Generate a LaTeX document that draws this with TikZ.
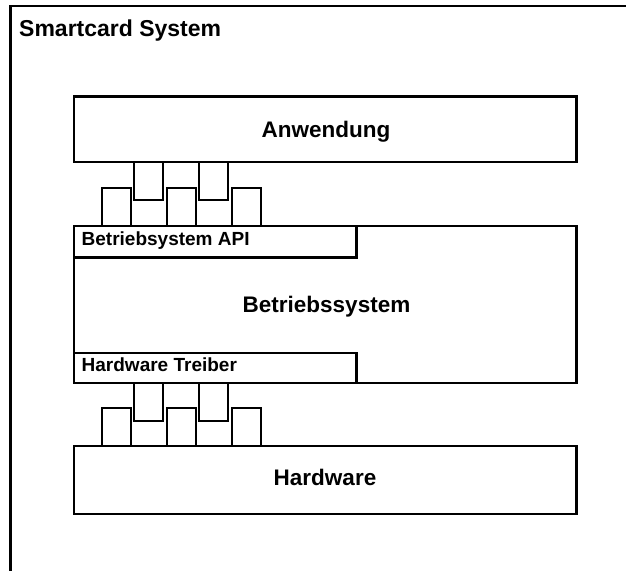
\documentclass[tikz,border=0pt]{standalone}
\usepackage{fontspec}
\setmainfont{Liberation Sans}
\begin{document}
\begin{tikzpicture}[x=1pt,y=-1pt,
  line/.style={line width=2.5pt, black},
  box/.style={draw, line width=2.5pt, rectangle, inner sep=0pt, outer sep=0pt},
  sock/.style={box, minimum width=29pt, minimum height=38pt},
  big/.style={font=\bfseries\fontsize{22.5pt}{26pt}\selectfont, inner sep=0pt, anchor=base},
  small/.style={font=\bfseries\fontsize{19pt}{22pt}\selectfont, inner sep=0pt, anchor=base west}]
\useasboundingbox (0,0) rectangle (626,570);
% outer frame
\coordinate (frTR) at (630,6.2);
\coordinate (frTL) at (10.5,6.2);
\coordinate (frBL) at (10.5,575);
\draw[line, line join=miter] (frTR) -- (frTL) -- (frBL);
\node[font=\bfseries\fontsize{23pt}{27pt}\selectfont, inner sep=0pt, anchor=base west] (title) at (19,36) {Smartcard System};
% main boxes
\node[box, minimum width=502.3pt, minimum height=65.5pt] (anw) at (325.15,129.25) {};
\node[box, minimum width=502.3pt, minimum height=157pt] (bs) at (325.15,304.5) {};
\node[box, minimum width=282.3pt, minimum height=31.3pt] (api) at (215.15,241.65) {};
\node[box, minimum width=282.3pt, minimum height=30pt] (trb) at (215.15,368) {};
\node[box, minimum width=502.3pt, minimum height=68pt] (hw) at (325.15,480) {};
% labels
\node[big] (tanw) at (326,137) {Anwendung};
\node[big] (tbs) at (326.5,312) {Betriebssystem};
\node[big] (thw) at (325,485) {Hardware};
\node[small] (tapi) at (81.5,245.5) {Betriebsystem API};
\node[small] (ttrb) at (81.5,371.5) {Hardware Treiber};
% upper sockets
\node[sock] (s1) at (116.5,207) {};
\node[sock] (s2) at (148.5,181) {};
\node[sock] (s3) at (181.5,207) {};
\node[sock] (s4) at (213.5,181) {};
\node[sock] (s5) at (246.5,207) {};
% lower sockets
\node[sock] (s6) at (116.5,427) {};
\node[sock] (s7) at (148.5,402) {};
\node[sock] (s8) at (181.5,427) {};
\node[sock] (s9) at (213.5,402) {};
\node[sock] (s10) at (246.5,427) {};
\end{tikzpicture}
\end{document}
